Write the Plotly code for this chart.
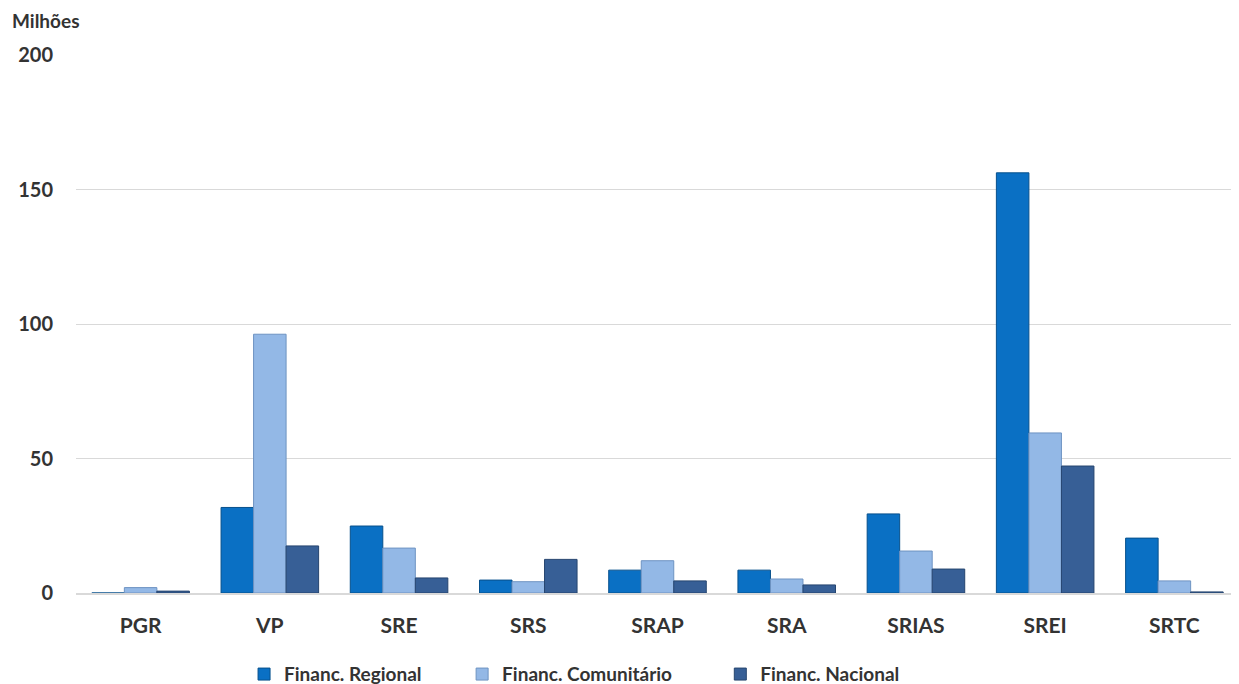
import plotly.graph_objects as go

categories = ["PGR", "VP", "SRE", "SRS", "SRAP", "SRA", "SRIAS", "SREI", "SRTC"]
regional = [0, 31.8, 24.9, 4.8, 8.5, 8.5, 29.4, 156.2, 20.4]
comunitario = [2.0, 96.2, 16.7, 4.2, 12.0, 5.2, 15.6, 59.5, 4.5]
nacional = [0.7, 17.5, 5.6, 12.5, 4.5, 3.0, 8.9, 47.2, 0.4]
y_ticks = [0, 50, 100, 150, 200]

FONT = "Lato"
TXT = "#333333"

fig = go.Figure()
fig.add_trace(go.Bar(name="Financ. Regional", x=categories, y=regional, legend="legend",
                     marker=dict(color="#0A70C4", line=dict(color="#07508C", width=1))))
fig.add_trace(go.Bar(name="Financ. Comunitário", x=categories, y=comunitario, legend="legend2",
                     marker=dict(color="#93B8E6", line=dict(color="#6E93C2", width=1))))
fig.add_trace(go.Bar(name="Financ. Nacional", x=categories, y=nacional, legend="legend3",
                     marker=dict(color="#375F96", line=dict(color="#26456F", width=1))))

leg_common = dict(orientation="h", yref="container", y=0.026, yanchor="middle", xanchor="left",
                  font=dict(family=FONT, size=19, color=TXT, weight="bold"),
                  itemwidth=30, bgcolor="rgba(0,0,0,0)")

fig.update_layout(
    width=1239, height=684,
    barmode="group", bargap=0.245, bargroupgap=0,
    plot_bgcolor="white", paper_bgcolor="white",
    margin=dict(l=68, r=8, t=47, b=99, autoexpand=False),
    font=dict(family=FONT, color=TXT),
    showlegend=True,
    legend=dict(x=0.1445, **leg_common),
    legend2=dict(x=0.332, **leg_common),
    legend3=dict(x=0.554, **leg_common),
    annotations=[dict(text="<b>Milhões</b>", xref="paper", yref="paper", x=-0.0567, y=1.065,
                      xanchor="left", yanchor="middle", showarrow=False,
                      font=dict(family=FONT, size=19, color=TXT))],
)
fig.update_xaxes(showgrid=False, showline=True, linecolor="#D9D9D9", linewidth=2,
                 ticks="", ticklabelstandoff=13,
                 tickfont=dict(family=FONT, size=21, color=TXT, weight="bold"))
fig.update_yaxes(range=[0, 200], tickvals=y_ticks, showgrid=True, gridcolor="#D9D9D9", gridwidth=1,
                 zeroline=False, showline=False, ticks="", ticklabelstandoff=22,
                 tickfont=dict(family=FONT, size=20, color=TXT, weight="bold"))

fig.write_html("out.html")
